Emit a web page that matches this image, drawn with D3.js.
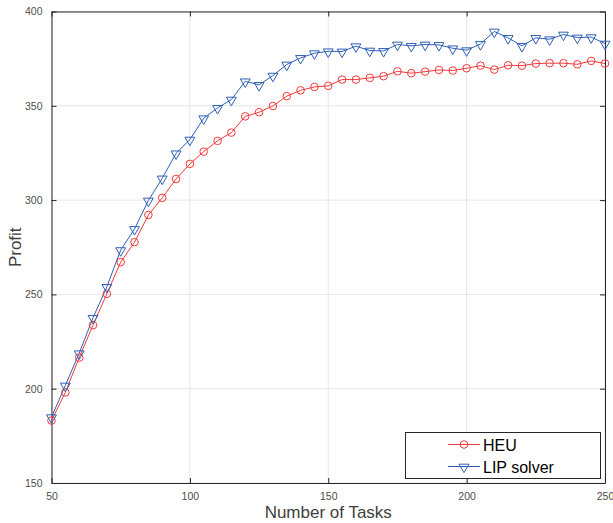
<!DOCTYPE html>
<html>
<head>
<meta charset="utf-8">
<script src="https://cdn.jsdelivr.net/npm/d3@7"></script>
<style>
  body { margin: 0; background: #fff; }
  svg { display: block; font-family: "Liberation Sans", Arial, sans-serif; }
</style>
</head>
<body>
<svg id="chart" width="613" height="523"></svg>
<script>
const tasks = d3.range(50, 251, 5)
const heu = [183.1, 198.0, 216.5, 233.7, 250.3, 267.1, 277.7, 292.1, 301.2, 311.2,
  319.2, 325.7, 331.4, 335.8, 344.4, 346.6, 349.9, 355.1, 358.2, 360.0,
  360.6, 363.9, 363.9, 364.8, 365.7, 368.3, 367.3, 368.1, 369.0, 368.7,
  369.9, 371.3, 369.2, 371.5, 371.3, 372.4, 372.6, 372.6, 372.0, 373.8, 372.4]
const lip = [184.9, 201.7, 218.8, 237.6, 254.0, 273.5, 284.7, 299.8, 311.5, 324.8,
  332.1, 343.4, 348.9, 353.3, 363.0, 361.1, 366.0, 371.9, 375.4, 377.9,
  378.9, 378.8, 381.6, 379.3, 379.1, 382.5, 381.8, 382.5, 382.3, 380.5,
  379.5, 382.8, 389.4, 386.0, 381.8, 386.0, 385.3, 387.8, 386.2, 386.4, 383.0]
const xTicks = [50, 100, 150, 200, 250]
const yTicks = [150, 200, 250, 300, 350, 400]
const seriesNames = ['HEU', 'LIP solver']

const margin = { left: 51.5, right: 8, top: 11.5, bottom: 40 }
const width = 613, height = 523
const svg = d3.select('#chart')

const x = d3.scaleLinear().domain([50, 250]).range([margin.left, width - margin.right])
const y = d3.scaleLinear().domain([150, 400]).range([height - margin.bottom, margin.top])
const x0 = x.range()[0], x1 = x.range()[1]
const y0 = y.range()[0], y1 = y.range()[1]

// grid
svg.append('g').selectAll('line.gx').data(xTicks).join('line')
  .attr('x1', d => x(d)).attr('x2', d => x(d)).attr('y1', y0).attr('y2', y1)
  .attr('stroke', '#e6e6e6').attr('stroke-width', 1)
svg.append('g').selectAll('line.gy').data(yTicks).join('line')
  .attr('x1', x0).attr('x2', x1).attr('y1', d => y(d)).attr('y2', d => y(d))
  .attr('stroke', '#e6e6e6').attr('stroke-width', 1)

// axes (ticks inward, box style)
const tk = 5
const xAxis = d3.axisBottom(x).tickValues(xTicks).tickSizeInner(-tk).tickSizeOuter(0).tickPadding(10)
const yAxis = d3.axisLeft(y).tickValues(yTicks).tickSizeInner(-tk).tickSizeOuter(0).tickPadding(9)
const gx = svg.append('g').attr('transform', `translate(0,${y0})`).call(xAxis)
const gy = svg.append('g').attr('transform', `translate(${x0},0)`).call(yAxis)
svg.append('g').attr('transform', `translate(0,${y1})`)
  .call(d3.axisTop(x).tickValues(xTicks).tickSizeInner(-tk).tickSizeOuter(0).tickFormat(''))
svg.append('g').attr('transform', `translate(${x1},0)`)
  .call(d3.axisRight(y).tickValues(yTicks).tickSizeInner(-tk).tickSizeOuter(0).tickFormat(''))
svg.selectAll('.domain').attr('stroke', '#262626')
svg.selectAll('.tick line').attr('stroke', '#262626')
svg.selectAll('.tick text').attr('fill', '#4d4d4d').attr('font-size', 10.5)
  .attr('font-family', '"Liberation Sans", Arial, sans-serif')

// series
const colors = ['#f23a3a', '#2f5fb5']
const datasets = [heu, lip]
const line = d3.line().x((d, i) => x(tasks[i])).y(d => y(d))
datasets.forEach((vals, k) => {
  svg.append('path').datum(vals).attr('d', line)
    .attr('fill', 'none').attr('stroke', colors[k]).attr('stroke-width', 1)
})
const tri = d3.symbol().type(d3.symbolTriangle).size(42)
function drawMarker(g, k, cx, cy) {
  if (k === 0) {
    g.append('circle').attr('cx', cx).attr('cy', cy).attr('r', 3.8)
      .attr('fill', 'none').attr('stroke', colors[0]).attr('stroke-width', 1)
  } else {
    g.append('path').attr('d', tri)
      .attr('transform', `translate(${cx},${cy + 0.5}) rotate(180)`)
      .attr('fill', 'none').attr('stroke', colors[1]).attr('stroke-width', 1)
  }
}
datasets.forEach((vals, k) => {
  const g = svg.append('g')
  vals.forEach((v, i) => drawMarker(g, k, x(tasks[i]), y(v)))
})

// axis labels
svg.append('text').attr('x', (x0 + x1) / 2).attr('y', 518)
  .attr('text-anchor', 'middle').attr('font-size', 17).attr('fill', '#404040')
  .text('Number of Tasks')
svg.append('text').attr('transform', `translate(21,${(y0 + y1) / 2}) rotate(-90)`)
  .attr('text-anchor', 'middle').attr('font-size', 17).attr('fill', '#404040')
  .text('Profit')

// legend
const lg = svg.append('g')
lg.append('rect').attr('x', 405.5).attr('y', 432.5).attr('width', 195).attr('height', 46)
  .attr('fill', '#fff').attr('stroke', '#262626').attr('stroke-width', 1)
seriesNames.forEach((name, k) => {
  const cy = 444.5 + k * 22
  lg.append('line').attr('x1', 448).attr('x2', 480).attr('y1', cy).attr('y2', cy)
    .attr('stroke', colors[k]).attr('stroke-width', 1)
  drawMarker(lg, k, 464, cy)
  lg.append('text').attr('x', 483).attr('y', cy + 6).attr('font-size', 16)
    .attr('fill', '#000').text(name)
})
</script>
</body>
</html>
